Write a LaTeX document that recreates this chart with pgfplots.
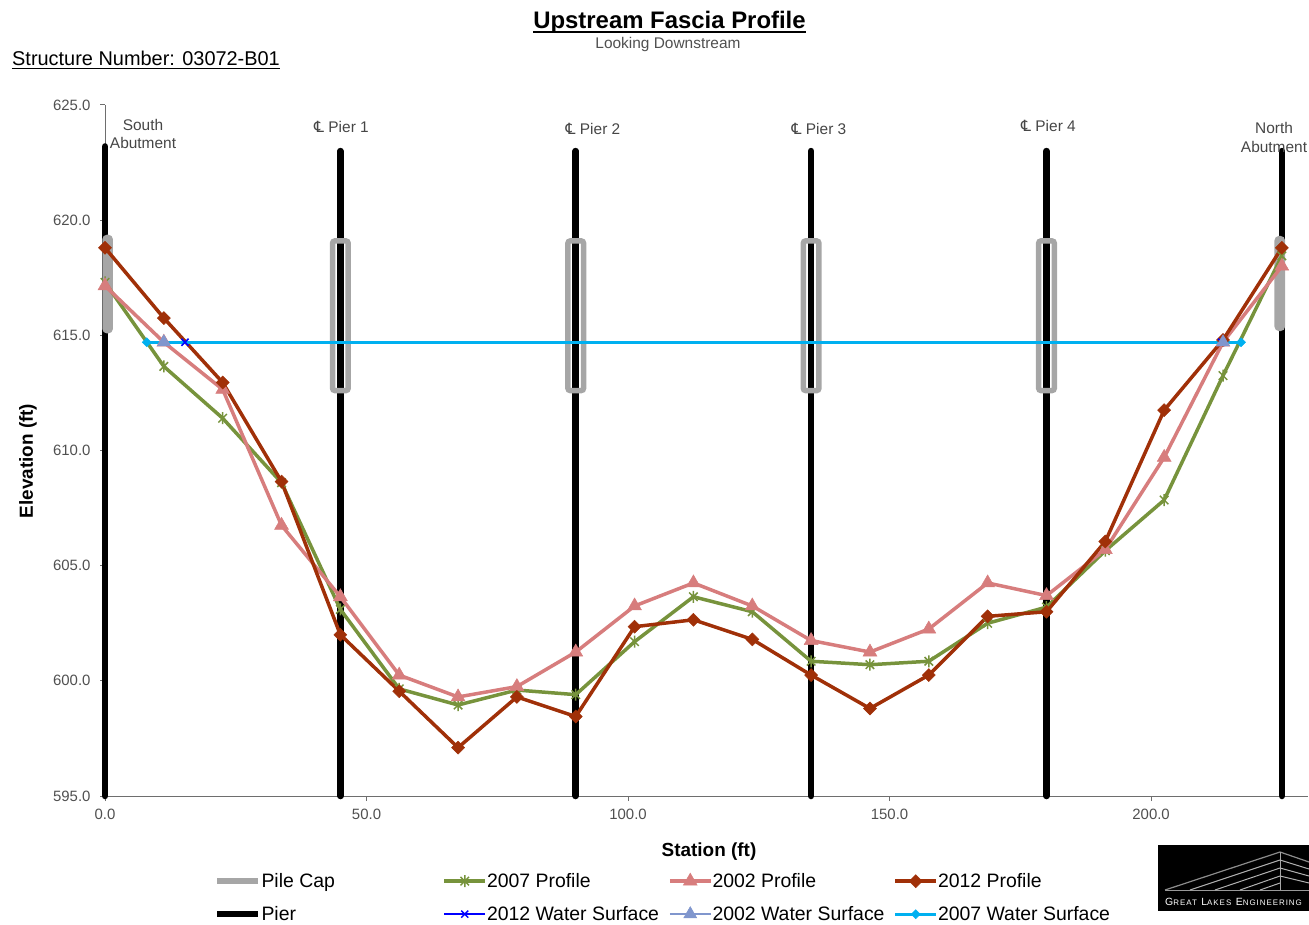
\documentclass[border=0pt]{standalone}
\usepackage{fontspec}
\setmainfont{Liberation Sans}
\newfontfamily\dejavu{DejaVu Sans}
\newfontfamily\logofont[LetterSpace=12]{Liberation Sans}
\usepackage{pgfplots}
\usepackage{pgfplotstable}
\pgfplotsset{compat=1.18}

\definecolor{c2012}{RGB}{160,48,8}
\definecolor{c2002}{RGB}{215,125,125}
\definecolor{c2007}{RGB}{119,147,60}
\definecolor{ws2012}{RGB}{0,0,255}
\definecolor{ws2002}{RGB}{128,150,205}
\definecolor{ws2007}{RGB}{0,176,240}
\definecolor{capgray}{RGB}{166,166,166}
\definecolor{txtgray}{RGB}{80,80,80}
\definecolor{lblgray}{RGB}{70,70,70}
\definecolor{axgray}{RGB}{110,110,110}

\pgfdeclareplotmark{xstar}{%
  \pgfpathmoveto{\pgfqpoint{-0.707\pgfplotmarksize}{-0.707\pgfplotmarksize}}%
  \pgfpathlineto{\pgfqpoint{0.707\pgfplotmarksize}{0.707\pgfplotmarksize}}%
  \pgfpathmoveto{\pgfqpoint{-0.707\pgfplotmarksize}{0.707\pgfplotmarksize}}%
  \pgfpathlineto{\pgfqpoint{0.707\pgfplotmarksize}{-0.707\pgfplotmarksize}}%
  \pgfpathmoveto{\pgfqpoint{0pt}{-\pgfplotmarksize}}%
  \pgfpathlineto{\pgfqpoint{0pt}{\pgfplotmarksize}}%
  \pgfusepathqstroke}

\pgfplotstableread{
x      y2007   y2002   y2012
0      617.30  617.15  618.80
11.25  613.65  614.70  615.75
22.5   611.40  612.65  612.95
33.75  608.60  606.75  608.65
45     603.10  603.65  602.00
56.25  599.65  600.25  599.55
67.5   598.95  599.30  597.10
78.75  599.60  599.75  599.30
90     599.40  601.25  598.45
101.25 601.70  603.25  602.35
112.5  603.65  604.25  602.65
123.75 603.00  603.25  601.80
135    600.85  601.75  600.25
146.25 600.70  601.25  598.80
157.5  600.85  602.25  600.25
168.75 602.50  604.25  602.80
180    603.20  603.70  603.00
191.25 605.65  605.70  606.05
202.5  607.85  609.70  611.75
213.75 613.25  614.70  614.80
225    618.45  618.00  618.80
}\profiles

\begin{document}
\begin{tikzpicture}[x=1bp,y=1bp]
\begin{axis}[
  scale only axis, width=1203bp, height=691bp,
  xmin=0, xmax=230, ymin=595, ymax=625,
  axis x line*=bottom, axis y line*=left,
  axis line style={draw=axgray, line width=1bp},
  xtick={0,50,100,150,200}, ytick={595,600,...,625},
  tick align=outside, major tick length=5bp,
  tick style={draw=axgray, line width=1bp},
  ticklabel style={font=\fontsize{15}{15}\selectfont, text=txtgray},
  yticklabel style={xshift=-6bp},
  xticklabel style={yshift=-5bp},
  /pgf/number format/fixed, /pgf/number format/fixed zerofill,
  /pgf/number format/precision=1, /pgf/number format/assume math mode=true,
  clip=false,
  legend columns=4, legend cell align=left,
  legend style={draw=none, fill=none, inner sep=0pt, outer sep=0pt,
    at={(0.0906,-0.1102)}, anchor=north west,
    font=\fontsize{19.5}{19.5}\selectfont,
    nodes={inner sep=0pt, text height=15bp, text depth=3bp},
    row sep=15bp, column sep=0bp,
    /tikz/every even column/.append style={column sep=4bp}},
  legend image code/.code={\draw[mark repeat=2,mark phase=2,#1] plot coordinates {(0bp,0bp)(20.5bp,0bp)(41bp,0bp)};},
]
\coordinate (O) at (axis cs:0,595);
% piers
\addplot[black, line width=6.5bp, line cap=round, forget plot] coordinates {(0,595) (0,623.2)};
\addplot[black, line width=6.5bp, line cap=round, forget plot] coordinates {(45,595) (45,623)};
\addplot[black, line width=6.5bp, line cap=round, forget plot] coordinates {(90,595) (90,623)};
\addplot[black, line width=6.5bp, line cap=round, forget plot] coordinates {(135,595) (135,623)};
\addplot[black, line width=6.5bp, line cap=round, forget plot] coordinates {(180,595) (180,623)};
\addplot[black, line width=6.5bp, line cap=round, forget plot] coordinates {(225,595) (225,623)};
% pile caps
\addplot[capgray, line width=5.5bp, rounded corners=2.5bp, forget plot] coordinates {(0.5,615.2)(1,615.2)(1,619.25)(0,619.25)(0,615.2)(0.5,615.2)};
\addplot[capgray, line width=5.5bp, rounded corners=2.5bp, forget plot] coordinates {(45,612.6)(46.5,612.6)(46.5,619.1)(43.5,619.1)(43.5,612.6)(45,612.6)};
\addplot[capgray, line width=5.5bp, rounded corners=2.5bp, forget plot] coordinates {(90,612.6)(91.5,612.6)(91.5,619.1)(88.5,619.1)(88.5,612.6)(90,612.6)};
\addplot[capgray, line width=5.5bp, rounded corners=2.5bp, forget plot] coordinates {(135,612.6)(136.5,612.6)(136.5,619.1)(133.5,619.1)(133.5,612.6)(135,612.6)};
\addplot[capgray, line width=5.5bp, rounded corners=2.5bp, forget plot] coordinates {(180,612.6)(181.5,612.6)(181.5,619.1)(178.5,619.1)(178.5,612.6)(180,612.6)};
\addplot[capgray, line width=5.5bp, rounded corners=2.5bp, forget plot] coordinates {(224.6,615.3)(225.1,615.3)(225.1,619.2)(224.1,619.2)(224.1,615.3)(224.6,615.3)};
\addlegendimage{capgray, line width=5.5bp}
\addlegendentry{\makebox[177bp][l]{Pile Cap}}
% profiles
\addplot[c2007, line width=3.5bp, mark=xstar, mark size=6bp, mark options={line width=1.5bp}] table[x=x, y=y2007] {\profiles};
\addlegendentry{\makebox[177bp][l]{2007 Profile}}
\addplot[c2002, line width=3.5bp, mark=triangle*, mark size=8bp, mark options={fill=c2002, draw=c2002, line width=0.5bp}] table[x=x, y=y2002] {\profiles};
\addlegendentry{\makebox[177bp][l]{2002 Profile}}
\addplot[c2012, line width=3.5bp, mark=square*, mark size=4.6bp, mark options={rotate=45, fill=c2012, draw=c2012, line width=0.5bp}] table[x=x, y=y2012] {\profiles};
\addlegendentry{\makebox[177bp][l]{2012 Profile}}
\addlegendimage{black, line width=6.5bp}
\addlegendentry{\makebox[177bp][l]{Pier}}
% water surfaces
\addplot[ws2012, line width=2bp, mark=x, mark size=5bp, mark options={line width=1.5bp}] coordinates {(15.3,614.7)(213.5,614.7)};
\addlegendentry{\makebox[177bp][l]{2012 Water Surface}}
\addplot[ws2002, line width=2bp, mark=triangle*, mark size=7.5bp, mark options={fill=ws2002, draw=ws2002, line width=0.5bp}] coordinates {(11.25,614.7)(213.75,614.7)};
\addlegendentry{\makebox[177bp][l]{2002 Water Surface}}
\addplot[ws2007, line width=3bp, mark=square*, mark size=3.2bp, mark options={rotate=45, fill=ws2007, draw=ws2007, line width=0.5bp}] coordinates {(8.0,614.7)(217.2,614.7)};
\addlegendentry{2007 Water Surface}
\end{axis}

\begin{scope}[shift={(O)}, xshift=-105bp, yshift=-128bp]
% titles
\node[font=\bfseries\fontsize{24}{24}\selectfont, inner sep=0pt, anchor=base] (T) at (669.5,895) {Upstream Fascia Profile};
\draw[line width=2bp] ([yshift=-3bp]T.base west) -- ([yshift=-3bp]T.base east);
\node[font=\fontsize{15.5}{15.5}\selectfont, text=txtgray, inner sep=0pt, anchor=base] at (668,875) {Looking Downstream};
\node[font=\fontsize{20}{20}\selectfont, inner sep=0pt, anchor=base west] (S) at (12,858) {Structure Number: 03072-B01};
\draw[line width=1.2bp] ([yshift=-2.5bp]S.base west) -- ([yshift=-2.5bp]S.base east);

% axis labels
\node[font=\bfseries\fontsize{19}{19}\selectfont, rotate=90, inner sep=0pt, anchor=base] at (33,463) {Elevation (ft)};
\node[font=\bfseries\fontsize{19}{19}\selectfont, inner sep=0pt, anchor=base] at (709,68) {Station (ft)};

% pier labels
\begin{scope}[every node/.style={font=\fontsize{15.5}{15.5}\selectfont, text=lblgray, inner sep=0pt, anchor=base, align=center}]
\node at (143,793) {South};
\node at (143,775) {Abutment};
\node at (341.5,791) {{\dejavu ℄} Pier 1};
\node at (593,789) {{\dejavu ℄} Pier 2};
\node at (819,789) {{\dejavu ℄} Pier 3};
\node at (1048.5,792) {{\dejavu ℄} Pier 4};
\node at (1274,790) {North};
\node at (1274,771) {Abutment};
\end{scope}

% logo
\begin{scope}
\clip (1158,13) rectangle (1309,79);
\fill[black] (1158,13) rectangle (1309,79);
\draw[gray!80, line width=1bp] (1165,34) -- (1309,34);
\draw[gray!90, line width=1.2bp] (1165,34) -- (1280,72) -- (1309,62);
\draw[gray!70, line width=1bp] (1280,72) -- (1280,34);
\draw[gray!60, line width=1bp] (1190,34) -- (1280,64);
\draw[gray!60, line width=1bp] (1215,34) -- (1280,56);
\draw[gray!60, line width=1bp] (1240,34) -- (1280,48);
\draw[gray!60, line width=1bp] (1260,34) -- (1280,41);
\draw[gray!60, line width=1bp] (1280,64) -- (1309,55);
\draw[gray!60, line width=1bp] (1280,56) -- (1309,48);
\draw[gray!60, line width=1bp] (1280,48) -- (1309,41);
\node[text=white, inner sep=0pt, anchor=base west] at (1165,19) {\logofont\fontsize{10.5}{10.5}\selectfont G\fontsize{8}{8}\selectfont REAT\, \fontsize{10.5}{10.5}\selectfont L\fontsize{8}{8}\selectfont AKES\, \fontsize{10.5}{10.5}\selectfont E\fontsize{8}{8}\selectfont NGINEERING};
\end{scope}
\pgfresetboundingbox
\useasboundingbox (0,0) rectangle (1309,924);
\end{scope}
\end{tikzpicture}
\end{document}
